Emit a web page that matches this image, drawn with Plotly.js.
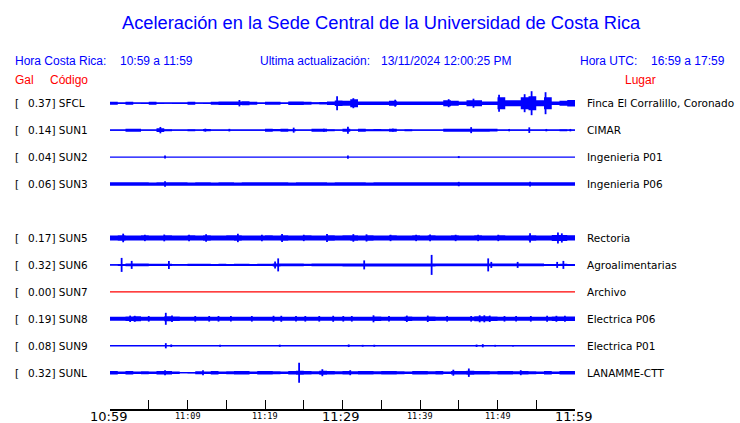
<!DOCTYPE html>
<html><head><meta charset="utf-8">
<script src="https://cdn.plot.ly/plotly-3.0.1.min.js"></script>
<style>html,body{margin:0;padding:0;background:#fff}#chart{width:740px;height:423px}</style>
</head><body><div id="chart"></div>
<script>
// ---------- data ----------
const codes  = ["SFCL","SUN1","SUN2","SUN3","SUN5","SUN6","SUN7","SUN8","SUN9","SUNL"];
const places = ["Finca El Corralillo, Coronado","CIMAR","Ingenieria P01","Ingenieria P06","Rectoria",
                "Agroalimentarias","Archivo","Electrica P06","Electrica P01","LANAMME-CTT"];
const galPeak = ["0.37","0.14","0.04","0.06","0.17","0.32","0.00","0.19","0.08","0.32"];
const tickMinutes = [0,5,10,15,20,25,30,35,40,45,50,55,60];
const labelMinutes = [0,10,20,30,40,50,60];
const tickLabels = ["10:59","11:09","11:19","11:29","11:39","11:49","11:59"];

// per-minute envelope half-amplitude (display units) for each channel
const sfclEnv = [1.5,0.8,1.5,0.6,0.8,1.5,0.8,0.6,0.8,0.8,1.5,0.6,0.8,1.5,1.8,1.8,1.8,2.0,1.5,0.8,
                 1.5,1.5,0.8,1.8,1.8,1.5,1.0,1.2,1.8,2.8,2.5,4.0,1.8,1.8,1.8,1.8,2.5,1.8,1.8,1.8,
                 1.8,1.8,1.8,3.0,2.5,1.8,3.0,3.0,1.8,1.8,6.0,3.0,3.0,6.0,7.0,3.0,6.0,1.8,2.5,3.2];
const sun1Env = [0.6,0.6,1.5,1.5,0.6,0.6,1.8,1.0,0.6,0.6,1.0,0.6,1.2,0.6,0.6,0.6,0.6,0.6,0.6,0.6,
                 1.5,1.2,1.5,1.0,0.6,0.6,1.5,1.5,1.0,0.6,1.5,0.6,1.5,1.0,1.2,1.0,1.5,0.6,1.0,0.6,
                 0.6,0.6,0.6,1.5,1.5,1.5,1.5,1.5,1.5,1.3,0.6,0.6,0.6,0.6,0.6,0.6,0.6,0.6,1.0,0.6];
const sun2Env = null;
const sun3Env = [1.7,1.7,1.7,1.7,1.7,1.6,1.7,1.7,1.7,1.7,1.6,1.7,1.7,1.6,1.7,1.7,1.6,1.7,1.7,1.7,
                 1.7,1.7,1.7,1.6,1.7,1.7,1.7,1.7,1.6,1.7,1.7,1.7,1.7,1.6,1.7,1.7,1.7,1.7,1.7,1.7,
                 1.7,1.7,1.7,1.7,1.7,1.7,1.7,1.7,1.7,1.7,1.7,1.7,1.7,1.7,1.7,1.7,1.7,1.7,1.7,1.7];
const sun5Env = [2.5,2.8,2.5,2.5,2.6,2.5,2.5,2.6,2.5,2.5,2.6,2.5,2.8,2.5,2.5,2.6,2.8,2.5,2.5,2.5,
                 2.6,2.5,2.8,2.5,2.5,2.6,2.5,2.5,2.8,2.5,2.6,2.8,2.5,2.8,2.5,2.5,2.6,2.5,2.5,2.6,
                 2.5,2.6,2.5,2.5,2.6,2.5,2.5,2.6,2.5,2.5,2.6,2.5,2.5,2.5,2.8,2.5,2.5,3.0,3.0,2.6];
const sun6Env = [0.6,1.0,1.3,1.3,1.3,1.2,1.2,1.2,0.8,0.8,1.2,1.2,1.2,1.0,1.2,1.0,1.2,1.2,1.0,1.2,
                 1.2,1.5,1.3,1.3,1.3,1.2,1.3,1.3,1.3,1.3,1.5,1.5,1.5,1.5,1.5,1.5,1.5,1.5,1.5,1.5,
                 1.5,1.5,1.3,1.3,1.3,1.3,1.3,1.3,1.3,1.3,1.3,1.3,1.3,1.3,1.3,1.3,1.0,1.0,1.2,1.0];
const sun7Env = null;
const sun8Env = [2.0,2.0,2.2,2.5,2.0,2.0,2.0,2.5,2.2,2.0,2.0,2.0,2.0,2.0,2.0,2.0,2.0,2.0,2.0,2.0,
                 2.0,2.0,2.0,2.0,2.0,2.0,2.0,2.0,2.0,2.0,2.0,2.0,2.0,2.0,2.2,2.0,2.0,2.0,2.2,2.0,
                 2.0,2.2,2.0,2.0,2.0,2.0,2.0,2.5,2.5,2.2,2.0,2.0,2.0,2.0,2.0,2.0,2.0,2.2,2.2,2.2];
const sun9Env = null;
const sunlEnv = [1.8,1.2,1.8,1.2,1.5,1.2,1.8,1.8,1.2,0.6,0.8,1.5,1.2,1.8,1.2,1.5,1.8,1.8,1.2,1.8,
                 1.8,1.5,1.2,1.8,2.0,1.8,1.5,2.0,1.8,1.5,1.8,1.5,1.8,1.8,1.5,1.8,1.8,1.5,1.2,1.8,
                 1.8,1.5,1.8,1.2,1.8,1.8,2.0,1.8,1.8,1.5,1.8,1.8,1.5,1.8,1.5,1.2,1.8,1.2,1.8,1.8];

// isolated bursts: time (minutes after 10:59) and half-amplitude (display units)
const sfclSpikeT = [16.7,29.3,31.4,36.8,43.7,46.9,50.2,53.5,54.4,56.2];
const sfclSpikeA = [3.2,7.0,5.0,3.5,4.0,4.5,8.5,9.0,12.0,11.0];
const sun1SpikeT = [6.5,23.7,30.7,46.6,54.1,12.3,15.4,27.6,36.5,51.5,56.3,59.4];
const sun1SpikeA = [3.2,2.5,3.5,3.0,2.8,1.5,1.3,1.5,1.5,1.2,1.2,1.2];
const sun2SpikeT = [7.1,30.7,45.0];
const sun2SpikeA = [1.5,1.7,1.0];
const sun3SpikeT = [7.1,45.0,54.2];
const sun3SpikeA = [2.8,2.2,2.4];
const sun5SpikeT = [1.7,4.5,7.0,10.2,12.4,16.5,19.6,22.2,25.0,28.0,31.4,33.1,36.2,39.5,41.3,44.6,47.5,50.1,54.2,57.8,58.3];
const sun5SpikeA = [4.3,3.2,3.4,3.2,3.8,4.2,3.2,4.0,3.2,4.0,3.8,3.6,3.2,3.2,3.4,3.2,3.2,3.2,4.6,5.5,4.6];
const sun6SpikeT = [1.5,2.8,7.6,21.3,21.7,32.8,41.5,48.8,49.2,52.6,57.7,58.5];
const sun6SpikeA = [7.0,4.0,4.0,3.5,6.5,4.5,10.0,6.5,3.0,3.0,3.0,4.0];
const sun7SpikeT = [];
const sun7SpikeA = [];
const sun8SpikeT = [2.6,3.2,5.0,7.2,8.0,11.0,12.8,14.0,15.6,18.3,21.1,22.1,24.0,25.2,27.0,28.8,30.1,31.2,
                    34.0,36.0,38.3,41.0,43.5,46.6,47.7,48.3,49.0,50.9,52.4,54.3,56.4,57.6,58.7];
const sun8SpikeA = [3.2,3.0,2.8,6.0,3.2,2.8,2.8,2.8,2.8,2.8,3.0,3.0,2.8,2.8,2.8,3.0,2.8,2.8,
                    3.5,2.8,3.2,3.2,2.8,2.8,3.5,3.5,3.2,2.8,2.8,2.8,3.0,3.0,3.0];
const sun9SpikeT = [7.2,7.9,14.2,21.9,30.8,32.6,34.1,47.3,48.1,49.7,52.0];
const sun9SpikeA = [2.6,1.3,0.9,1.1,1.3,0.9,1.0,1.2,1.6,0.9,0.8];
const sunlSpikeT = [24.4,27.4,7.1,12.0,46.3,31.0,44.3,53.0];
const sunlSpikeA = [10.0,3.5,2.5,2.5,4.2,2.5,3.0,2.5];

const envs   = [sfclEnv,sun1Env,sun2Env,sun3Env,sun5Env,sun6Env,sun7Env,sun8Env,sun9Env,sunlEnv];
const spikeT = [sfclSpikeT,sun1SpikeT,sun2SpikeT,sun3SpikeT,sun5SpikeT,sun6SpikeT,sun7SpikeT,sun8SpikeT,sun9SpikeT,sunlSpikeT];
const spikeA = [sfclSpikeA,sun1SpikeA,sun2SpikeA,sun3SpikeA,sun5SpikeA,sun6SpikeA,sun7SpikeA,sun8SpikeA,sun9SpikeA,sunlSpikeA];

// ---------- layout helpers ----------
const BLUE = "#0000ff", RED = "#ff0000";
const rowSlot = [0,1,2,3,5,6,7,8,9,10]; // SUN4 slot left empty
const SCALE = 1/26.95;                  // display units per row
const L=110, R=575, T=90, B=409;
const pxX = x => (x-L)/(R-L);
const pxY = y => (B-y)/(B-T);
const rowPx = i => 103.2 + rowSlot[i]*26.95;

const traces = [];
codes.forEach((c,k)=>{
  const base = rowSlot[k];
  const col = (galPeak[k]==="0.00") ? RED : BLUE;
  traces.push({type:"scatter",mode:"lines",x:[0,60],y:[base,base],
    line:{color:col,width:1.3},hoverinfo:"skip",showlegend:false});
  const env = envs[k];
  if(env){
    const xs=[], ys=[];
    env.forEach((a,i)=>{xs.push(i,i+1); ys.push(base-a*SCALE, base-a*SCALE);});
    for(let i=env.length-1;i>=0;i--){xs.push(i+1,i); ys.push(base+env[i]*SCALE, base+env[i]*SCALE);}
    traces.push({type:"scatter",mode:"lines",x:xs,y:ys,fill:"toself",fillcolor:col,
      line:{width:0,color:col,simplify:false},hoverinfo:"skip",showlegend:false});
  }
  const sx=[], sy=[];
  spikeT[k].forEach((t,i)=>{sx.push(t,t,null); sy.push(base-spikeA[k][i]*SCALE, base+spikeA[k][i]*SCALE, null);});
  if(sx.length) traces.push({type:"scatter",mode:"lines",x:sx,y:sy,line:{color:col,width:1.8,simplify:false},
      connectgaps:false,hoverinfo:"skip",showlegend:false,cliponaxis:false});
});

const ann = [];
function txt(text,x,y,size,color,family,anchor){
  ann.push({text:text,xref:"paper",yref:"paper",x:pxX(x),y:pxY(y),xanchor:anchor||"left",yanchor:"middle",
    showarrow:false,borderpad:0,font:{size:size,color:color,family:family}});
}
const SANS = "Liberation Sans, Arial, sans-serif";
const DEJA = "DejaVu Sans, sans-serif";
txt("Aceleración en la Sede Central de la Universidad de Costa Rica",381.5,22,18.3,BLUE,SANS,"center");
txt("Hora Costa Rica:",14,61,12,BLUE,SANS);
txt("10:59 a 11:59",119,61,12,BLUE,SANS);
txt("Ultima actualización:",259,61,12,BLUE,SANS);
txt("13/11/2024 12:00:25 PM",380,61,12,BLUE,SANS);
txt("Hora UTC:",579,61,12,BLUE,SANS);
txt("16:59 a 17:59",650,61,12,BLUE,SANS);
txt("Gal",14,80,12,RED,SANS);
txt("Código",49,80,12,RED,SANS);
txt("Lugar",624,80,12,RED,SANS);
codes.forEach((c,k)=>{
  const y = rowPx(k);
  txt("[",14,y,10.5,"#000",DEJA);
  txt(galPeak[k]+"] "+c,26.5,y,10.5,"#000",DEJA);
  txt(places[k],586,y,10.5,"#000",DEJA);
});
labelMinutes.forEach((m,i)=>{
  const big = (m%30===0);
  txt(tickLabels[i], L+(R-L)*m/60 - (big?2:0), 416, big?13:8.5, "#000", big?DEJA:"DejaVu Sans Mono, monospace","center");
});

const layout = {
  width:740,height:423,margin:{l:L,r:740-R,t:T,b:423-B},
  paper_bgcolor:"#fff",plot_bgcolor:"#fff",showlegend:false,
  xaxis:{range:[0,60],showgrid:false,zeroline:false,showline:true,linecolor:"#000",linewidth:1.5,
    ticks:"inside",ticklen:9,tickwidth:1,tickcolor:"#000",tickvals:tickMinutes,showticklabels:false,fixedrange:true},
  yaxis:{range:[(B-103.2)/26.95,(T-103.2)/26.95],visible:false,showgrid:false,zeroline:false,fixedrange:true},
  annotations:ann
};
Plotly.newPlot("chart",traces,layout,{staticPlot:true,displayModeBar:false});
</script></body></html>
